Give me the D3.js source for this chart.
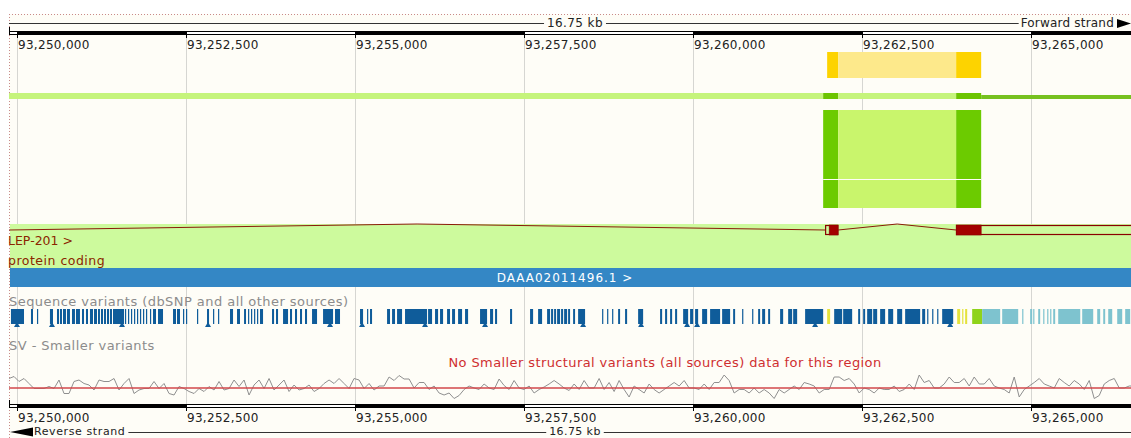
<!DOCTYPE html>
<html>
<head>
<meta charset="utf-8">
<script src="https://cdn.jsdelivr.net/npm/d3@7"></script>
<style>
  html, body { margin: 0; padding: 0; background: #ffffff; }
  svg { display: block; font-family: "DejaVu Sans", "Noto Sans", sans-serif; }
</style>
</head>
<body>
<svg id="view" width="1131" height="438"></svg>
<script>
// ---- Region and scale bar ----
const regionStart = 93249882;
const regionEnd = 93266632;           // 16.75 kb window
const regionLabel = "16.75 kb";
const tickPositions = [93250000, 93252500, 93255000, 93257500, 93260000, 93262500, 93265000];
const tickLabels = ["93,250,000", "93,252,500", "93,255,000", "93,257,500", "93,260,000", "93,262,500", "93,265,000"];

// ---- Transcript LEP-201 ----
const transcriptName = "LEP-201 >";
const transcriptBiotype = "protein coding";
const transcriptExons = [[93240500, 93240700], [93261958, 93262151], [93263897, 93266900]];
const codingRange = [93262018, 93264267];

// ---- Supporting evidence tracks ----
const yellowBlocks = [[93261988, 93262151, "dark"], [93262151, 93263897, "light"], [93263897, 93264267, "dark"]];
const greenLineBlocks = [[93249882, 93261929, "light"], [93261929, 93262151, "dark"], [93262151, 93263897, "light"], [93263897, 93264267, "dark"], [93264267, 93266632, "darkThin"]];
const greenBigBlocks = [[93261929, 93262151, "dark"], [93262151, 93263897, "light"], [93263897, 93264267, "dark"]];

// ---- Contig ----
const contigName = "DAAA02011496.1 >";
const contigRange = [93249882, 93266632];

// ---- Sequence variants: [start, end, consequence] ----
const variants = [
  [93249911, 93250104, "intron"], [93250207, 93250237, "intron"], [93250296, 93250311, "intron"],
  [93250488, 93250533, "intron"], [93250592, 93250622, "intron"], [93250636, 93250666, "intron"],
  [93250681, 93250725, "intron"], [93250740, 93250784, "intron"], [93250814, 93250858, "intron"],
  [93250873, 93250932, "intron"], [93250962, 93250992, "intron"], [93251021, 93251051, "intron"],
  [93251080, 93251125, "intron"], [93251140, 93251184, "intron"], [93251199, 93251228, "intron"],
  [93251243, 93251273, "intron"], [93251288, 93251317, "intron"], [93251332, 93251362, "intron"],
  [93251376, 93251406, "intron"], [93251421, 93251584, "intron"], [93251598, 93251613, "intron"],
  [93251643, 93251658, "intron"], [93251687, 93251702, "intron"], [93251732, 93251747, "intron"],
  [93251776, 93251791, "intron"], [93251820, 93251835, "intron"], [93251865, 93251880, "intron"],
  [93251909, 93251924, "intron"], [93251968, 93251983, "intron"], [93252013, 93252057, "intron"],
  [93252087, 93252161, "intron"], [93252309, 93252353, "intron"], [93252368, 93252412, "intron"],
  [93252457, 93252472, "intron"], [93252501, 93252516, "intron"], [93252664, 93252679, "intron"],
  [93252812, 93252842, "intron"], [93252901, 93252916, "intron"], [93252975, 93252990, "intron"],
  [93253152, 93253197, "intron"], [93253256, 93253300, "intron"], [93253360, 93253389, "intron"],
  [93253419, 93253434, "intron"], [93253463, 93253478, "intron"], [93253508, 93253523, "intron"],
  [93253552, 93253567, "intron"], [93253596, 93253641, "intron"], [93253774, 93253804, "intron"],
  [93253833, 93253863, "intron"], [93253937, 93254011, "intron"], [93254040, 93254070, "intron"],
  [93254114, 93254144, "intron"], [93254188, 93254218, "intron"], [93254262, 93254292, "intron"],
  [93254366, 93254440, "intron"], [93254529, 93254677, "intron"], [93254706, 93254780, "intron"],
  [93255076, 93255121, "intron"], [93255180, 93255195, "intron"], [93255224, 93255254, "intron"],
  [93255476, 93255520, "intron"], [93255550, 93255594, "intron"], [93255624, 93255698, "intron"],
  [93255742, 93256068, "intron"], [93256083, 93256142, "intron"], [93256186, 93256231, "intron"],
  [93256260, 93256305, "intron"], [93256364, 93256408, "intron"], [93256438, 93256482, "intron"],
  [93256527, 93256586, "intron"], [93256630, 93256675, "intron"], [93256852, 93256956, "intron"],
  [93257000, 93257045, "intron"], [93257074, 93257104, "intron"], [93257296, 93257326, "intron"],
  [93257592, 93257637, "intron"], [93257711, 93257770, "intron"], [93257844, 93257888, "intron"],
  [93257903, 93257933, "intron"], [93257948, 93257977, "intron"], [93257992, 93258036, "intron"],
  [93258051, 93258081, "intron"], [93258096, 93258140, "intron"], [93258155, 93258184, "intron"],
  [93258229, 93258258, "intron"], [93258303, 93258406, "intron"], [93258658, 93258673, "intron"],
  [93258732, 93258747, "intron"], [93258806, 93258821, "intron"], [93258895, 93258924, "intron"],
  [93258998, 93259028, "intron"], [93259191, 93259265, "intron"], [93259516, 93259546, "intron"],
  [93259590, 93259620, "intron"], [93259664, 93259694, "intron"], [93259738, 93259768, "intron"],
  [93259857, 93259931, "intron"], [93259960, 93260005, "intron"], [93260034, 93260079, "intron"],
  [93260138, 93260212, "intron"], [93260256, 93260404, "intron"], [93260434, 93260552, "intron"],
  [93260597, 93260626, "intron"], [93260730, 93260745, "intron"], [93260878, 93260893, "intron"],
  [93260967, 93260996, "intron"], [93261026, 93261070, "intron"], [93261115, 93261144, "intron"],
  [93261292, 93261337, "intron"], [93261411, 93261470, "intron"], [93261485, 93261544, "intron"],
  [93261662, 93261929, "intron"], [93261988, 93262032, "missense"], [93262092, 93262210, "intron"],
  [93262225, 93262358, "intron"], [93262447, 93262476, "intron"], [93262521, 93262550, "intron"],
  [93262580, 93262654, "intron"], [93262669, 93262728, "intron"], [93262772, 93262846, "intron"],
  [93262891, 93262965, "intron"], [93263024, 93263098, "intron"], [93263142, 93263364, "intron"],
  [93263394, 93263438, "intron"], [93263468, 93263483, "intron"], [93263542, 93263557, "intron"],
  [93263616, 93263631, "intron"], [93263690, 93263853, "intron"], [93263912, 93263956, "missense"],
  [93263986, 93264001, "missense"], [93264030, 93264060, "missense"], [93264134, 93264282, "synonymous"],
  [93264282, 93264548, "utr3"], [93264578, 93264815, "utr3"], [93264874, 93264889, "utr3"],
  [93264992, 93265022, "utr3"], [93265037, 93265052, "utr3"], [93265111, 93265140, "utr3"],
  [93265185, 93265200, "utr3"], [93265244, 93265259, "utr3"], [93265288, 93265303, "utr3"],
  [93265333, 93265362, "utr3"], [93265407, 93265733, "utr3"], [93265762, 93265925, "utr3"],
  [93265984, 93266028, "utr3"], [93266073, 93266102, "utr3"], [93266147, 93266206, "utr3"],
  [93266280, 93266354, "utr3"], [93266398, 93266472, "utr3"]
];
// Indel positions (drawn with a small foot under the bar)
const indelPositions = [93250000, 93250518, 93251554, 93252827, 93254632, 93255106, 93256038, 93256926, 93258377, 93259235, 93259916, 93260064, 93261810, 93263808];
const consequenceColours = { intron: "#0f5c9a", missense: "#e4e23c", synonymous: "#8fd31a", utr3: "#7ec3cf" };

// ---- %GC content, one value every 74 bp from regionStart ----
const gcStep = 74;
const gcPercent = [
  69, 73, 63, 69, 59, 49, 49, 49, 53, 49, 66, 39, 39, 63, 66, 59, 56, 46, 66, 63,
  63, 69, 46, 59, 69, 39, 46, 49, 49, 63, 49, 59, 39, 36, 53, 49, 43, 39, 49, 43,
  53, 46, 63, 46, 49, 66, 53, 66, 36, 56, 66, 49, 69, 46, 56, 66, 43, 56, 46, 49,
  56, 43, 49, 59, 66, 59, 69, 59, 49, 69, 66, 49, 59, 46,
  54, 54, 72, 65, 75, 68, 68, 50, 61, 61, 47, 54, 40, 36, 40, 29, 35, 47, 54, 50,
  47, 58, 50, 47, 68, 55, 47, 65, 50, 47, 54, 40, 47, 52, 58, 65, 58,
  50, 45, 58, 47, 65, 50, 50, 69, 47, 61, 43, 65, 47, 32, 54, 47, 40, 58, 47, 40,
  47, 54, 61, 54, 65, 50, 50, 47, 58, 47, 61, 61, 76, 65, 40, 47, 47, 40, 50, 40,
  47, 40, 29, 47, 40, 47, 54, 47, 61, 58, 54, 40, 47, 47, 72, 72, 65, 69, 58, 40,
  50, 47, 40, 50, 47, 47, 54, 43, 47, 58, 47, 76, 61, 65, 50, 50, 58, 72, 61, 61,
  69, 54, 72, 58, 58, 69, 54, 50, 47, 40, 72, 32, 47, 54, 61, 69, 58, 54, 50, 69,
  61, 54, 65, 58, 47, 65, 29, 35, 58, 65, 69, 50, 50, 54, 54, 54
];
const gcMidline = 50;

const trackLabels = {
  variants: "Sequence variants (dbSNP and all other sources)",
  sv: "SV - Smaller variants",
  svEmpty: "No Smaller structural variants (all sources) data for this region",
  forward: "Forward strand",
  reverse: "Reverse strand"
};

// ---------------------------------------------------------------
const svg = d3.select("#view");
const W = 1131, H = 438;
const panelLeft = 9, panelRight = 1141;

const x = d3.scaleLinear().domain([regionStart, regionEnd]).range([panelLeft, panelRight]);
const clipX = v => Math.max(panelLeft, Math.min(W, v));

// Background
svg.append("rect").attr("x", 0).attr("y", 0).attr("width", W).attr("height", H).attr("fill", "#ffffff");
svg.append("rect").attr("x", panelLeft).attr("y", 14).attr("width", W - panelLeft).attr("height", H - 14).attr("fill", "#fefdf7");

// Dotted panel border
svg.append("line").attr("x1", panelLeft).attr("x2", W).attr("y1", 14.5).attr("y2", 14.5)
  .attr("stroke", "#c98a8a").attr("stroke-dasharray", "1,2");
svg.append("line").attr("x1", panelLeft + 0.5).attr("x2", panelLeft + 0.5).attr("y1", 14).attr("y2", H)
  .attr("stroke", "#c98a8a").attr("stroke-dasharray", "1,2");

// Grid lines
svg.append("g").selectAll("line").data(tickPositions).join("line")
  .attr("x1", d => Math.round(x(d)) + 0.5).attr("x2", d => Math.round(x(d)) + 0.5)
  .attr("y1", 35).attr("y2", 404)
  .attr("stroke", "#d6d6d2").attr("stroke-width", 1);

// ---- Scale bar (top and bottom) ----
function ruler(yBar, labelY) {
  const g = svg.append("g");
  g.append("rect").attr("x", panelLeft + 0.5).attr("y", yBar + 0.5).attr("width", panelRight - panelLeft).attr("height", 3)
    .attr("fill", "#ffffff").attr("stroke", "#000").attr("stroke-width", 1);
  const segs = tickPositions.map((t, i) => [t, tickPositions[i + 1] || regionEnd]).filter((d, i) => i % 2 === 0);
  g.selectAll("rect.seg").data(segs).join("rect").attr("class", "seg")
    .attr("x", d => Math.round(x(d[0]))).attr("y", yBar)
    .attr("width", d => Math.round(x(d[1])) - Math.round(x(d[0]))).attr("height", 4)
    .attr("fill", "#000");
  g.selectAll("line.tick").data(tickPositions).join("line").attr("class", "tick")
    .attr("x1", d => Math.round(x(d)) + 0.5).attr("x2", d => Math.round(x(d)) + 0.5)
    .attr("y1", yBar).attr("y2", yBar + 7)
    .attr("stroke", "#000");
  g.append("line").attr("x1", panelLeft + 0.5).attr("x2", panelLeft + 0.5).attr("y1", yBar - 4).attr("y2", yBar + 4).attr("stroke", "#000");
  g.selectAll("text").data(tickPositions).join("text")
    .attr("x", d => Math.round(x(d)) + 1).attr("y", labelY)
    .attr("font-size", 12).attr("letter-spacing", 0.3).attr("fill", "#222")
    .text((d, i) => tickLabels[i]);
}
ruler(31, 49);
ruler(404, 422);

// Length line with strand direction
const midX = (panelLeft + panelRight) / 2;
function lengthText(textY, size) {
  const t = svg.append("text").attr("x", midX).attr("y", textY).attr("text-anchor", "middle")
    .attr("font-size", size).attr("letter-spacing", 0.4).attr("fill", "#222").text(regionLabel);
  return t.node().getBBox();
}
{
  const bb = lengthText(27, 12);
  svg.append("line").attr("x1", panelLeft).attr("x2", bb.x - 3).attr("y1", 23.5).attr("y2", 23.5).attr("stroke", "#333");
  const fs = svg.append("text").attr("x", 1114).attr("y", 27).attr("text-anchor", "end")
    .attr("font-size", 12).attr("letter-spacing", 0.2).attr("fill", "#222").text(trackLabels.forward);
  const fb = fs.node().getBBox();
  svg.append("line").attr("x1", bb.x + bb.width + 3).attr("x2", fb.x - 2).attr("y1", 23.5).attr("y2", 23.5).attr("stroke", "#333");
  svg.append("path").attr("d", `M1117,19 L1131,23.5 L1117,28 Z`).attr("fill", "#000");
}
{
  const bb = lengthText(435.3, 11);
  svg.append("path").attr("d", `M10,432 L33,427.5 L33,436.5 Z`).attr("fill", "#000");
  const rs = svg.append("text").attr("x", 34).attr("y", 435.3).attr("font-size", 11).attr("letter-spacing", 0.6)
    .attr("fill", "#222").text(trackLabels.reverse);
  const rb = rs.node().getBBox();
  svg.append("line").attr("x1", rb.x + rb.width + 3).attr("x2", bb.x - 3).attr("y1", 432.5).attr("y2", 432.5).attr("stroke", "#333");
  svg.append("line").attr("x1", bb.x + bb.width + 3).attr("x2", W).attr("y1", 432.5).attr("y2", 432.5).attr("stroke", "#333");
}

// ---- Yellow evidence bar ----
const yellowFill = { dark: "#fdd300", light: "#fde98b" };
svg.append("g").selectAll("rect").data(yellowBlocks).join("rect")
  .attr("x", d => x(d[0])).attr("width", d => x(d[1]) - x(d[0]))
  .attr("y", 52).attr("height", 26).attr("fill", d => yellowFill[d[2]]);

// ---- Green evidence line and block ----
const greenFill = { light: "#c5f47c", dark: "#6cc400", darkThin: "#76c11f" };
svg.append("g").selectAll("rect").data(greenLineBlocks).join("rect")
  .attr("x", d => clipX(x(d[0]))).attr("width", d => clipX(x(d[1])) - clipX(x(d[0])))
  .attr("y", d => d[2] === "darkThin" ? 95 : 93).attr("height", d => d[2] === "darkThin" ? 4 : 6)
  .attr("fill", d => greenFill[d[2]]);
const bigFill = { light: "#c9f56c", dark: "#6ccb00" };
svg.append("g").selectAll("rect").data(greenBigBlocks).join("rect")
  .attr("x", d => x(d[0])).attr("width", d => x(d[1]) - x(d[0]))
  .attr("y", 110).attr("height", 98).attr("fill", d => bigFill[d[2]]);
svg.append("line").attr("x1", x(greenBigBlocks[0][0])).attr("x2", x(greenBigBlocks[2][1]))
  .attr("y1", 179.5).attr("y2", 179.5).attr("stroke", "#fefdf7").attr("stroke-width", 1.2);

// ---- Transcript track ----
svg.append("rect").attr("x", panelLeft + 1).attr("y", 224).attr("width", W - panelLeft - 1).attr("height", 44).attr("fill", "#cdfa9d");
const exonTop = 225, exonH = 10, exonMid = 230, intronPeak = 224;
const tg = svg.append("g");
for (let i = 0; i < transcriptExons.length - 1; i++) {
  const a = clipX(x(transcriptExons[i][1])), b = clipX(x(transcriptExons[i + 1][0]));
  if (b <= a) continue;
  const m = (a + b) / 2;
  tg.append("path").attr("d", d3.line()([[a, exonMid], [m, intronPeak], [b, exonMid]]))
    .attr("fill", "none").attr("stroke", "#8a1a0a").attr("stroke-width", 1);
}
transcriptExons.forEach(e => {
  const x0 = x(e[0]), x1 = x(e[1]);
  if (x1 < panelLeft) return;
  tg.append("rect").attr("x", x0 + 0.5).attr("y", exonTop + 0.5).attr("width", x1 - x0 - 1).attr("height", exonH - 1)
    .attr("fill", "none").attr("stroke", "#8a0000").attr("stroke-width", 1.2);
  const c0 = Math.max(e[0], codingRange[0]), c1 = Math.min(e[1], codingRange[1]);
  if (c1 > c0) {
    tg.append("rect").attr("x", x(c0)).attr("y", exonTop).attr("width", x(c1) - x(c0)).attr("height", exonH)
      .attr("fill", "#a30000").attr("stroke", "#8a0000").attr("stroke-width", 0.6);
  }
});
tg.append("text").attr("x", panelLeft - 1).attr("y", 245).attr("font-size", 12.5).attr("fill", "#8b2500").text(transcriptName);
tg.append("text").attr("x", panelLeft - 1).attr("y", 265).attr("font-size", 12.5).attr("letter-spacing", 0.5).attr("fill", "#8b2500").text(transcriptBiotype);

// ---- Contig ----
const cx0 = clipX(x(contigRange[0])), cx1 = clipX(x(contigRange[1]));
svg.append("rect").attr("x", cx0 + 1).attr("y", 268).attr("width", cx1 - cx0 - 1)
  .attr("height", 19).attr("fill", "#3487c5");
svg.append("text").attr("x", (cx0 + cx1) / 2 - 5).attr("y", 282)
  .attr("text-anchor", "middle").attr("font-size", 12).attr("letter-spacing", 1).attr("fill", "#ffffff").text(contigName);

// ---- Sequence variants ----
svg.append("text").attr("x", panelLeft).attr("y", 306).attr("font-size", 13).attr("letter-spacing", 0.45).attr("fill", "#8c8c8c").text(trackLabels.variants);
svg.append("g").selectAll("rect").data(variants).join("rect")
  .attr("x", d => x(d[0])).attr("width", d => Math.max(1.2, x(d[1]) - x(d[0])))
  .attr("y", 309).attr("height", 15).attr("fill", d => consequenceColours[d[2]]);
svg.append("g").selectAll("path").data(indelPositions).join("path")
  .attr("d", d => { const c = x(d); return `M${c - 3},327 L${c},322 L${c + 3},327 Z`; })
  .attr("fill", consequenceColours.intron);

// ---- Structural variants ----
svg.append("text").attr("x", panelLeft).attr("y", 350).attr("font-size", 13).attr("letter-spacing", 0.45).attr("fill", "#8c8c8c").text(trackLabels.sv);
svg.append("text").attr("x", 665).attr("y", 367).attr("text-anchor", "middle").attr("font-size", 13).attr("letter-spacing", 0.4).attr("fill", "#cf2f30").text(trackLabels.svEmpty);

// ---- %GC wiggle ----
const gy = d3.scaleLinear().domain([0, 100]).range([413, 363]);
const gcPoints = gcPercent.map((v, i) => [x(regionStart + i * gcStep), gy(v)]);
svg.append("path").attr("d", d3.line()(gcPoints)).attr("fill", "none").attr("stroke", "#8f8f8f").attr("stroke-width", 1);
svg.append("line").attr("x1", panelLeft).attr("x2", W).attr("y1", gy(gcMidline)).attr("y2", gy(gcMidline))
  .attr("stroke", "#d2474b").attr("stroke-width", 1.5);
</script>
</body>
</html>
